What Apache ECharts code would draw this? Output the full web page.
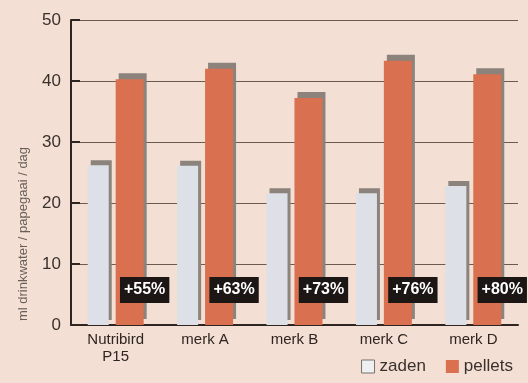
<!DOCTYPE html>
<html>
<head>
<meta charset="utf-8">
<script src="https://cdn.jsdelivr.net/npm/echarts@6/dist/echarts.min.js"></script>
<style>
html,body{margin:0;padding:0;background:#f3dfd3;}
#c{width:528px;height:383px;}
</style>
</head>
<body>
<div id="c"></div>
<script>
var categories = ['Nutribird\nP15', 'merk A', 'merk B', 'merk C', 'merk D'];
var zaden = [26.2, 26.1, 21.6, 21.6, 22.8];
var pellets = [40.3, 42.0, 37.2, 43.3, 41.1];
var increases = ['+55%', '+63%', '+73%', '+76%', '+80%'];
var yTicks = [0, 10, 20, 30, 40, 50];

var font = '"Liberation Sans", Arial, sans-serif';
var chart = echarts.init(document.getElementById('c'));
chart.setOption({
  backgroundColor: '#f3dfd3',
  animation: false,
  grid: { left: 71, top: 20, right: 10, bottom: 58 },
  legend: {
    right: 10, bottom: 3,
    itemWidth: 13, itemHeight: 13, itemGap: 20,
    icon: 'rect',
    textStyle: { fontFamily: font, fontSize: 17, color: '#3a302c' },
    data: [
      { name: 'zaden', itemStyle: { color: '#eef0f2', borderColor: '#7a706a', borderWidth: 1 } },
      { name: 'pellets', itemStyle: { color: '#d9704f' } }
    ]
  },
  xAxis: {
    type: 'category',
    data: categories,
    axisLine: { lineStyle: { color: '#2e2420', width: 2 } },
    axisTick: { inside: true, length: 5, lineStyle: { color: '#2e2420', width: 2 } },
    axisLabel: { fontFamily: font, fontSize: 15, color: '#2e2420', lineHeight: 17, margin: 6 }
  },
  yAxis: {
    type: 'value',
    min: 0, max: 50, interval: 10,
    axisLine: { show: true, lineStyle: { color: '#2e2420', width: 2 } },
    axisTick: { show: true, inside: true, length: 9, lineStyle: { color: '#2e2420', width: 2 } },
    axisLabel: {
      fontFamily: font, fontSize: 17, color: '#3a302c', margin: 10,
      formatter: function (v) { return yTicks.indexOf(v) >= 0 ? String(v) : ''; }
    },
    splitLine: { show: true, lineStyle: { color: '#6b5a52', width: 1 } }
  },
  graphic: [{
    type: 'text',
    x: 23, y: 234, rotation: Math.PI / 2,
    style: {
      text: 'ml drinkwater / papegaai / dag',
      fontFamily: font, fontSize: 13, fill: '#6a5e58',
      textAlign: 'center', textVerticalAlign: 'middle'
    }
  }],
  series: [
    {
      name: 'zaden', type: 'bar', data: zaden,
      barWidth: 21, barGap: '33%',
      itemStyle: {
        color: '#dde0e6',
        shadowColor: '#8b837c', shadowBlur: 0, shadowOffsetX: 3, shadowOffsetY: -5
      }
    },
    {
      name: 'pellets', type: 'bar', data: pellets,
      barWidth: 28,
      itemStyle: {
        color: '#d9704f',
        shadowColor: '#8b837c', shadowBlur: 0, shadowOffsetX: 3, shadowOffsetY: -6
      },
      label: {
        show: true, position: 'insideBottom', distance: 22, offset: [15, 0],
        formatter: function (p) { return increases[p.dataIndex]; },
        backgroundColor: '#1c1614', color: '#ffffff',
        fontFamily: font, fontSize: 16, fontWeight: 'bold',
        padding: [5, 4, 5, 4]
      }
    }
  ]
});
</script>
</body>
</html>
